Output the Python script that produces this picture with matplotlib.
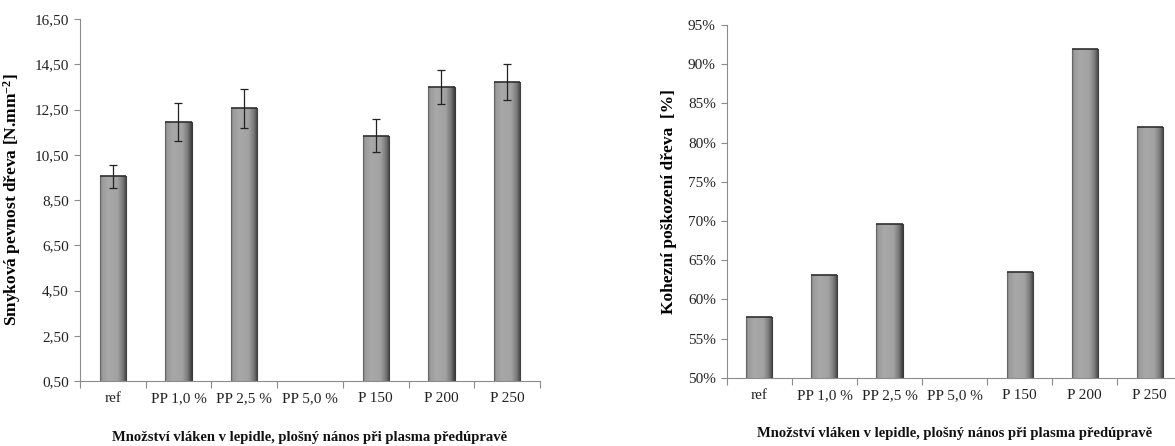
import numpy as np
import matplotlib
matplotlib.use("Agg")
import matplotlib.pyplot as plt
from matplotlib.colors import LinearSegmentedColormap

categories = ["ref", "PP 1,0 %", "PP 2,5 %", "PP 5,0 %", "P 150", "P 200", "P 250"]
strength = [9.55, 11.95, 12.55, np.nan, 11.35, 13.50, 13.72]
strength_err = [0.50, 0.85, 0.85, np.nan, 0.75, 0.75, 0.80]
cohesion = [57.8, 63.1, 69.6, np.nan, 63.5, 91.9, 81.95]

left_yticks = [0.5, 2.5, 4.5, 6.5, 8.5, 10.5, 12.5, 14.5, 16.5]
right_yticks = [50, 55, 60, 65, 70, 75, 80, 85, 90, 95]
xlabel = "Množství vláken v lepidle, plošný nános při plasma předúpravě"

plt.rcParams['font.family'] = ['Liberation Serif', 'DejaVu Serif']
plt.rcParams['mathtext.fontset'] = 'custom'
plt.rcParams['mathtext.rm'] = 'Liberation Serif'
plt.rcParams['mathtext.bf'] = 'Liberation Serif:bold'
plt.rcParams['mathtext.default'] = 'bf'

fig = plt.figure(figsize=(11.75, 4.46), dpi=100)
ax1 = fig.add_axes([0.068, 0.1457, 0.3916, 0.8117])
ax2 = fig.add_axes([0.6187, 0.1531, 0.3873, 0.7909])

cmap = LinearSegmentedColormap.from_list("bar", [
    (0.0, "#5a5a5a"), (0.06, "#9a9a9a"), (0.3, "#a8a8a8"), (0.65, "#a2a2a2"),
    (0.85, "#7a7a7a"), (1.0, "#3c3c3c")])
grad = np.linspace(0, 1, 64).reshape(1, -1)

def draw_bars(ax, vals, base):
    x = np.arange(len(categories))
    bars = ax.bar(x, np.array(vals) - base, bottom=base, width=0.4,
                  color="#a4a4a4", edgecolor="#3a3a3a", linewidth=0.8, zorder=2)
    for b, v in zip(bars, vals):
        if np.isnan(v):
            continue
        x0, y0, w, h = b.get_x(), b.get_y(), b.get_width(), b.get_height()
        im = ax.imshow(grad, cmap=cmap, aspect='auto', extent=[x0, x0 + w, y0, y0 + h],
                       zorder=2.5, interpolation='bilinear')
        im.set_clip_path(b)
        ax.plot([x0, x0 + w], [y0 + h, y0 + h], color="#303030", lw=1.2, zorder=3,
                solid_capstyle='butt')
    return x

def style(ax):
    for s in ["top", "right"]:
        ax.spines[s].set_visible(False)
    for s in ["left", "bottom"]:
        ax.spines[s].set_color("#8c8c8c")
        ax.spines[s].set_linewidth(0.8)
    ax.set_xlim(-0.5, len(categories) - 0.5)
    ax.set_xticks(np.arange(len(categories) + 1) - 0.5, minor=False)
    ax.set_xticklabels([])
    ax.set_xticks(np.arange(len(categories)), minor=True)
    ax.set_xticklabels(categories, minor=True, fontsize=11, color="#222222")
    ax.tick_params(axis='x', which='major', length=5, color="#8c8c8c", direction='out')
    ax.tick_params(axis='x', which='minor', length=0, pad=8)
    ax.tick_params(axis='y', length=4, color="#8c8c8c", direction='out', labelsize=11,
                   labelcolor="#222222", pad=4)

x = draw_bars(ax1, strength, 0.5)
ax1.errorbar(x, strength, yerr=strength_err, fmt='none', ecolor="#222222",
             elinewidth=0.9, capsize=3, capthick=0.9, zorder=4)
ax1.set_ylim(0.5, 16.5)
ax1.set_yticks(left_yticks)
ax1.set_yticklabels([f"{v:.2f}".replace(".", ",") for v in left_yticks])
style(ax1)
ax1.set_ylabel("Smyková pevnost dřeva [N.mm$^{-2}$]", fontsize=12.5,
               fontweight='bold', labelpad=8)

draw_bars(ax2, cohesion, 50)
ax2.set_ylim(50, 95)
ax2.set_yticks(right_yticks)
ax2.set_yticklabels([f"{v}%" for v in right_yticks])
style(ax2)
ax2.set_ylabel("Kohezní poškození dřeva  [%]", fontsize=12.5, fontweight='bold', labelpad=8)

fig.text(0.2638, 1 - 437 / 446, xlabel, fontsize=10.5, fontweight='bold',
         ha='center', va='center', color="#111111")
fig.text(0.8124, 1 - 433 / 446, xlabel, fontsize=10.5, fontweight='bold',
         ha='center', va='center', color="#111111")

fig.savefig("out.png", dpi=100)
